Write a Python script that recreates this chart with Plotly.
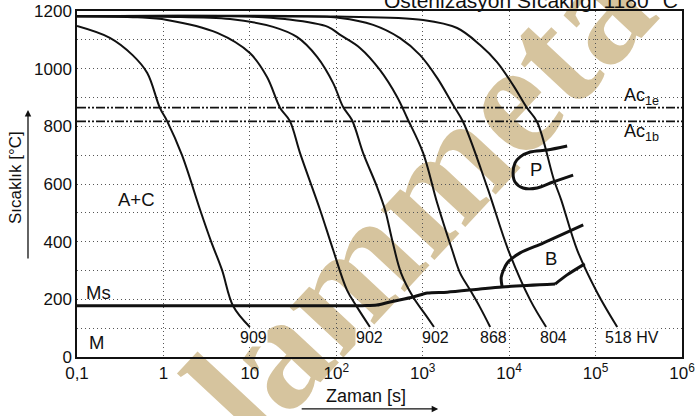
import numpy as np
import plotly.graph_objects as go

# ---- data (time in s, temperature in °C) ----
t_909 = [0.1, 0.24, 0.44, 0.65, 0.91, 1.1, 1.64, 2.66, 3.55, 4.76, 6.4, 10]
T_909 = [1148, 1107, 1047, 985, 864, 819, 700, 510, 402, 302, 177, 104]

t_902a = [0.1, 0.5, 1.1, 4.2, 10, 15.8, 22.4, 29, 38, 65, 92, 133, 174, 245]
T_902a = [1182, 1178, 1169, 1124, 1054, 971, 864, 819, 708, 510, 371, 232, 173, 104]

t_902b = [0.1, 1, 5.9, 18.6, 35, 60, 92, 120, 152, 204, 296, 367, 443, 562, 774, 1120, 1350]
T_902b = [1182, 1180, 1172, 1145, 1110, 1041, 950, 867, 822, 708, 590, 510, 406, 291, 208, 139, 104]

t_868 = [0.1, 10, 25.5, 80, 111, 188, 321, 506, 661, 1010, 1470, 2190, 2710, 3540, 4590, 6030]
T_868 = [1182, 1181, 1172, 1145, 1117, 1072, 995, 902, 829, 708, 534, 371, 291, 232, 173, 104]

t_804 = [0.1, 30, 111, 267, 547, 933, 1468, 2250, 2940, 5560, 9770, 17500, 26800]
T_804 = [1182, 1181, 1176, 1152, 1106, 1047, 968, 874, 815, 590, 371, 198, 104]

t_518 = [0.1, 100, 1010, 2500, 4610, 7240, 11100, 16100, 21100, 33000, 40000, 61300, 105000, 178000]
T_518 = [1183, 1181, 1169, 1141, 1082, 1023, 943, 864, 815, 614, 545, 371, 222, 104]

# Ms / bainite start line
t_ms = [0.1, 200, 295, 417, 776, 1130, 1920, 4610, 8300, 34000]
T_ms = [178, 178, 180, 191, 208, 222, 225, 236, 243, 253]
t_bs_tail = [34000, 46400, 75000]
T_bs_tail = [253, 284, 323]
# bainite upper boundary
t_b = [8300, 8100, 9500, 13400, 24700, 72000]
T_b = [243, 277, 326, 361, 395, 458]
# pearlite region
t_p = [46900, 27500, 17500, 13400, 11700, 11100, 11700, 14500, 21100, 32300, 55000]
T_p = [732, 718, 711, 694, 673, 638, 607, 586, 586, 607, 631]

Ac1e = 865
Ac1b = 817

hardness = ["909", "902", "902", "868", "804", "518 HV"]

x_tickvals = [0.1, 1, 10, 100, 1e3, 1e4, 1e5, 1e6]
x_ticktext = ["0,1", "1", "10", "10<sup>2</sup>", "10<sup>3</sup>", "10<sup>4</sup>",
              "10<sup>5</sup>", "10<sup>6</sup>"]
y_tickvals = [0, 200, 400, 600, 800, 1000, 1200]

FONT = "Liberation Sans, Arial, sans-serif"
INK = "#111111"
GRID = dict(gridcolor="#555555", gridwidth=1, griddash="1px,3px")

fig = go.Figure()

for t, T in [(t_909, T_909), (t_902a, T_902a), (t_902b, T_902b),
             (t_868, T_868), (t_804, T_804), (t_518, T_518)]:
    fig.add_trace(go.Scatter(x=t, y=T, mode="lines", hoverinfo="skip", showlegend=False,
                             line=dict(color=INK, width=2, shape="spline", smoothing=1.0)))

for T in [Ac1e, Ac1b]:
    fig.add_trace(go.Scatter(x=[0.1, 1e6], y=[T, T], mode="lines", hoverinfo="skip",
                             showlegend=False,
                             line=dict(color=INK, width=1.8, dash="9px,2px,2px,2px,2px,2px")))

for t, T in [(t_ms, T_ms), (t_bs_tail, T_bs_tail), (t_b, T_b), (t_p, T_p)]:
    fig.add_trace(go.Scatter(x=t, y=T, mode="lines", hoverinfo="skip", showlegend=False,
                             line=dict(color=INK, width=3, shape="spline", smoothing=0.8)))

# watermark (behind the curves)
fig.add_shape(type="rect", xref="paper", yref="paper", x0=0.475, x1=0.615, y0=0.41, y1=0.58,
              line=dict(width=0, color="rgba(0,0,0,0)"), fillcolor="rgba(0,0,0,0)",
              layer="between",
              label=dict(text="lammeta", textposition="middle center", textangle=-47,
                         font=dict(family="Liberation Serif, serif", size=160,
                                   color="#d6c49e", weight="bold")))

ann = []
def txt(x, y, s, size=17, **kw):
    d = dict(x=x, y=y, text=s, showarrow=False, xanchor="center", yanchor="middle",
             font=dict(family=FONT, size=size, color=INK))
    d.update(kw)
    ann.append(d)

# hardness labels
hx = [10.9, 245, 1410, 6530, 32500, 264000]
for xv, h in zip(hx, hardness):
    txt(np.log10(xv), 66, h, size=16, bgcolor="white", borderpad=0)

txt(np.log10(0.49), 545, "A+C", size=18.5)
txt(np.log10(0.175), 225, "Ms", size=18.5)
txt(np.log10(0.166), 52, "M", size=18.5)
txt(np.log10(20400), 649, "P", size=18.5)
txt(np.log10(30600), 343, "B", size=18.5)
txt(np.log10(3.37e5), 905, "Ac<sub>1e</sub>", size=18)
txt(np.log10(3.37e5), 777, "Ac<sub>1b</sub>", size=18)

# title, axis titles
txt(0.750, 1.029, "Östenizasyon Sıcaklığı 1180 °C", size=21, xref="paper", yref="paper")
txt(0.478, -0.113, "Zaman [s]", size=18, xref="paper", yref="paper")
txt(-0.1025, 0.520, "Sıcaklık [°C]", size=17, xref="paper", yref="paper", textangle=-90)

# axis arrows
ann.append(dict(x=-0.081, y=0.714, xref="paper", yref="paper", text="", showarrow=True,
                ax=0, ay=150, arrowhead=2, arrowsize=1, arrowwidth=1.3, arrowcolor=INK))
ann.append(dict(x=0.597, y=-0.150, xref="paper", yref="paper", text="", showarrow=True,
                ax=-138, ay=0, arrowhead=2, arrowsize=1, arrowwidth=1.3, arrowcolor=INK))

fig.update_layout(
    width=696, height=416,
    margin=dict(l=77, r=14, t=11, b=59, autoexpand=False),
    paper_bgcolor="white", plot_bgcolor="white",
    annotations=ann,
    font=dict(family=FONT, size=17, color=INK),
    xaxis=dict(type="log", range=[-1, 6], tickvals=x_tickvals, ticktext=x_ticktext,
               showgrid=True, **GRID,
               showline=True, linecolor=INK, linewidth=1.5, mirror=True, ticks="",
               zeroline=False, tickfont=dict(family=FONT, size=17, color=INK)),
    yaxis=dict(range=[0, 1200], tickvals=y_tickvals,
               showgrid=True, **GRID,
               minor=dict(dtick=100, showgrid=True, **GRID),
               showline=True, linecolor=INK, linewidth=1.5, mirror=True, ticks="",
               zeroline=False, tickfont=dict(family=FONT, size=17, color=INK)),
)

fig.write_html("out.html", config={"displayModeBar": False},
               post_script="document.body.style.margin='0px';")
